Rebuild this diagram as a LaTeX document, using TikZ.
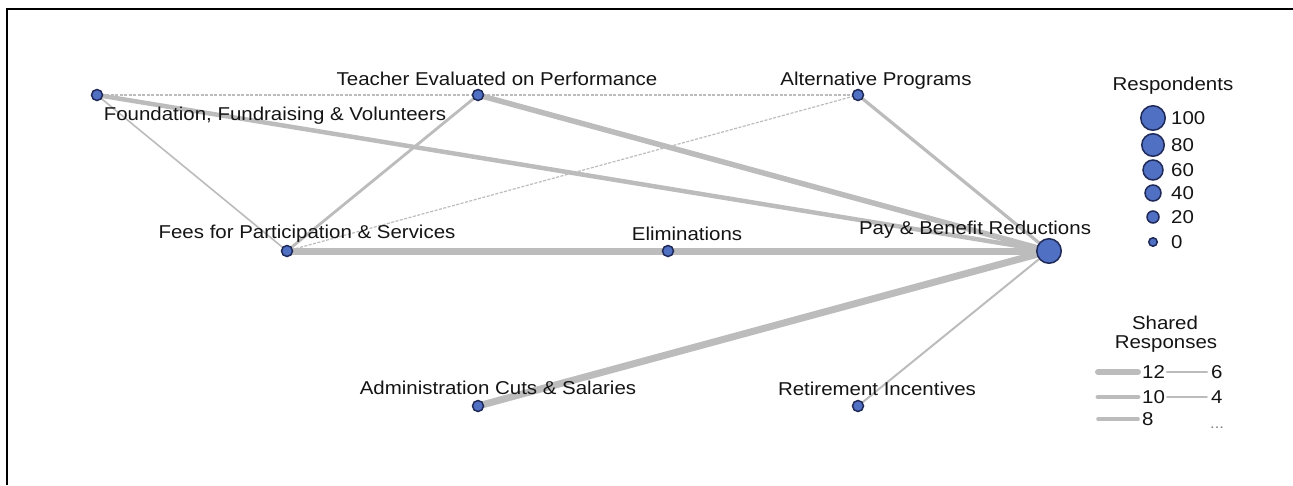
\documentclass[tikz,border=0pt]{standalone}
\usepackage{fontspec}
\setmainfont[FakeStretch=1.1]{Liberation Sans}
\usetikzlibrary{backgrounds}
\definecolor{nodeblue}{RGB}{80,112,196}
\definecolor{nodeedge}{RGB}{32,42,88}
\definecolor{linkgray}{RGB}{188,188,188}
\definecolor{labelgray}{RGB}{20,20,20}

\begin{document}
\begin{tikzpicture}[x=1pt, y=-1pt,
  topic/.style={circle, fill=nodeblue, draw=nodeedge, line width=1.5pt, inner sep=0pt, minimum size=#1},
  topic/.default=11pt,
  lab/.style={font=\fontsize{18.6}{22}\selectfont, text=labelgray, inner sep=0pt, anchor=base},
  link/.style={linkgray, line width=#1},
  faint/.style={linkgray, line width=1.2pt, dash pattern=on 3pt off 1.5pt}]

\useasboundingbox (0,0) rectangle (1293,485);

% Frame (open at right and bottom)
\draw[line width=2.5pt] (7,485) -- (7,9) -- (1293,9);

% Topics
\node[topic] (found) at (97,95) {};
\node[topic] (teach) at (478,95) {};
\node[topic] (alt) at (858,95) {};
\node[topic] (fees) at (287,251) {};
\node[topic] (elim) at (668,251) {};
\node[topic=24.5pt] (pay) at (1049,251) {};
\node[topic] (admin) at (478,406) {};
\node[topic] (retire) at (858,406) {};

% Topic labels
\node[lab] (found-l) at (275,120) {Foundation, Fundraising \& Volunteers};
\node[lab] (teach-l) at (497,85) {Teacher Evaluated on Performance};
\node[lab] (alt-l) at (876,85) {Alternative Programs};
\node[lab] (fees-l) at (307,238) {Fees for Participation \& Services};
\node[lab] (elim-l) at (687,240) {Eliminations};
\node[lab] (pay-l) at (975,234) {Pay \& Benefit Reductions};
\node[lab] (admin-l) at (498,394) {Administration Cuts \& Salaries};
\node[lab] (retire-l) at (877,395) {Retirement Incentives};

% Shared responses, behind the topics
\begin{scope}[on background layer]
\draw[faint] (found.center) -- (teach.center);
\draw[faint] (teach.center) -- (alt.center);
\draw[faint] (fees.center) -- (alt.center);
\draw[link=1.6pt] (found.center) -- (fees.center);
\draw[link=2.8pt] (fees.center) -- (teach.center);
\draw[link=2pt] (retire.center) -- (pay.center);
\draw[link=3.2pt] (alt.center) -- (pay.center);
\draw[link=4.5pt] (found.center) -- (pay.center);
\draw[link=5.5pt] (teach.center) -- (pay.center);
\draw[link=7pt] (admin.center) -- (pay.center);
\draw[link=7pt] (fees.center) -- (elim.center) -- (pay.center);
\end{scope}

% Legend: respondents
\node[lab] (resp-t) at (1173,90) {Respondents};
\foreach \v/\y/\dia in {100/118/24.5pt, 80/145/22.5pt, 60/170/20pt, 40/193/16pt, 20/217/12pt, 0/242/8.5pt} {
  \node[topic=\dia] (size\v) at (1153,\y) {};
  \node[lab, anchor=base west] (size\v-l) at (1171,\y+6.7) {\v};
}

% Legend: shared responses
\node[lab] (shared-t) at (1165,329) {Shared};
\node[lab] (shared-t2) at (1166,348) {Responses};
\foreach \v/\x/\y/\w in {12/1098/372/6pt, 10/1098/397/4.8pt, 8/1098/419/3.6pt, 6/1167/372/2.6pt, 4/1167/397/1.8pt} {
  \coordinate (w\v-a) at (\x,\y);
  \coordinate (w\v-b) at (\x+40,\y);
  \draw[link=\w, line cap=round] (w\v-a) -- (w\v-b);
  \node[lab, anchor=base west] (w\v-l) at (\x+44,\y+6.7) {\v};
}
\node[lab, anchor=base west, font=\fontsize{15}{18}\selectfont, text=gray] (more-l) at (1210,428) {...};

\end{tikzpicture}
\end{document}
